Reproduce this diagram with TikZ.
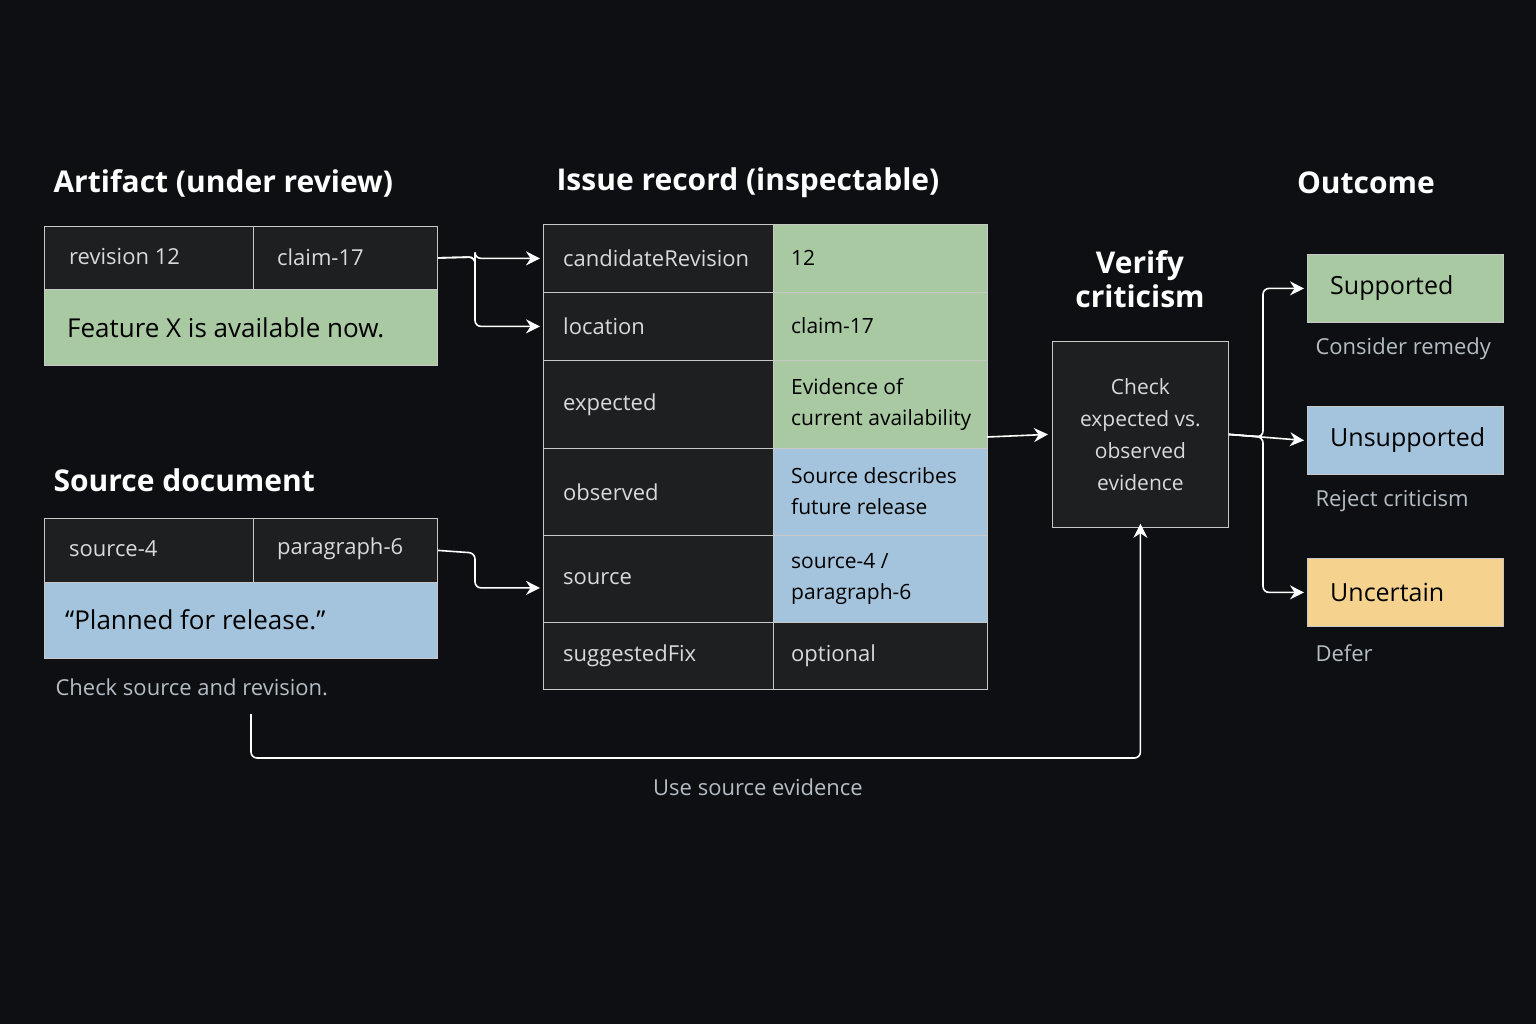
\documentclass[tikz,border=0pt]{standalone}
\usepackage{fontspec}
\setmainfont{Open Sans}
\usetikzlibrary{arrows.meta,positioning}
\definecolor{bgc}{HTML}{0D0F12}
\definecolor{cellc}{HTML}{1E1F21}
\definecolor{greenc}{HTML}{A8C9A2}
\definecolor{bluec}{HTML}{A3C4DC}
\definecolor{yellowc}{HTML}{F5D38E}
\definecolor{greyc}{HTML}{B4BCC4}
\definecolor{linec}{HTML}{C8C8C8}
\tikzset{
  cell/.style={draw=linec,line width=0.8pt,anchor=north west,inner sep=0pt},
  dark/.style={cell,fill=cellc},
  txt/.style={anchor=west,inner sep=1pt,text=white!85!black,font=\fontsize{22}{28}\selectfont},
  blk/.style={txt,text=black},
  heading/.style={text=white,font=\bfseries\fontsize{30}{36}\selectfont,anchor=west},
  note/.style={text=greyc,font=\fontsize{22}{28}\selectfont,anchor=west},
  flow/.style={draw=white,line width=1.6pt,rounded corners=6pt,-{Stealth[length=14pt,width=14pt]}}
}
\begin{document}
\begin{tikzpicture}[x=1pt,y=-1pt]
  \fill[bgc] (0,0) rectangle (1536,1024);
  \useasboundingbox (0,0) rectangle (1536,1024);

  % Headings
  \node[heading] (hArt) at (50,183) {Artifact (under review)};
  \node[heading] (hIss) at (553,183) {Issue record (inspectable)};
  \node[heading,anchor=center] (hOut) at (1366,183) {Outcome};
  \node[heading,anchor=center,align=center] (hVer) at (1140,279) {Verify\\[-2pt]criticism};
  \node[heading] (hSrc) at (50,480) {Source document};

  % Artifact
  \node[dark,minimum width=209,minimum height=63] (rev) at (44,226) {};
  \node[dark,minimum width=184,minimum height=63] (claim) at (253,226) {};
  \node[cell,fill=greenc,minimum width=393,minimum height=76] (feat) at (44,289) {};
  \node[txt] at (68,257) {revision 12};
  \node[txt] at (276,257) {claim-17};
  \node[blk,font=\fontsize{26}{32}\selectfont] at (66,328) {Feature X is available now.};

  % Source document
  \node[dark,minimum width=209,minimum height=64] (srcid) at (44,518) {};
  \node[dark,minimum width=184,minimum height=64] (para) at (253,518) {};
  \node[cell,fill=bluec,minimum width=393,minimum height=76] (quote) at (44,582) {};
  \node[txt] at (68,549) {source-4};
  \node[txt] at (276,549) {paragraph-6};
  \node[blk,font=\fontsize{26}{32}\selectfont] at (64,620) {“Planned for release.”};
  \node[note] (chk) at (52,687) {Check source and revision.};

  % Issue record rows: name/top/height/colour/value
  \foreach \k/\t/\h/\c/\v in {
      r1/224/68/greenc/12,
      r2/292/68/greenc/claim-17,
      r3/360/88/greenc/{Evidence of\\current availability},
      r4/448/87/bluec/{Source describes\\future release},
      r5/535/87/bluec/{source-4 /\\paragraph-6}}
    {\node[dark,minimum width=230,minimum height=\h] (\k l) at (543,\t) {};
     \node[cell,fill=\c,minimum width=214,minimum height=\h] (\k v) at (773,\t) {};
     \node[blk,align=left,font=\fontsize{21}{31}\selectfont] at (790,\t+\h/2) {\v};}
  \node[dark,minimum width=230,minimum height=67] (r6l) at (543,622) {};
  \node[dark,minimum width=214,minimum height=67] (r6v) at (773,622) {};
  \node[txt] at (790,656) {optional};
  \foreach \k/\n in {r1/candidateRevision,r2/location,r3/expected,r4/observed,r5/source,r6/suggestedFix}
    \node[txt] at ([xshift=19pt]\k l.west) {\n};

  % Verify
  \node[dark,minimum width=176,minimum height=186] (ver) at (1052,341) {};
  \node[txt,anchor=center,align=center,font=\fontsize{21}{32}\selectfont] at (ver.center) {Check\\expected vs.\\observed\\evidence};

  % Outcomes
  \node[cell,fill=greenc,minimum width=196,minimum height=68] (sup) at (1307,254) {};
  \node[cell,fill=bluec,minimum width=196,minimum height=68] (uns) at (1307,406) {};
  \node[cell,fill=yellowc,minimum width=196,minimum height=68] (unc) at (1307,558) {};
  \foreach \b/\l in {sup/Supported,uns/Unsupported,unc/Uncertain}
    \node[blk,font=\fontsize{25}{30}\selectfont] at ([xshift=22pt]\b.west) {\l};
  \node[note] (n1) at (1312,349) {Consider remedy};
  \node[note] (n2) at (1312,501) {Reject criticism};
  \node[note] (n3) at (1312,653) {Defer};

  % Connectors
  \coordinate (bend1) at (475,257);
  \draw[flow] (claim.east) -- (bend1) |- ([xshift=-3pt]r1l.west);
  \draw[flow] (claim.east) -- (bend1) |- ([xshift=-3pt]r2l.west);
  \coordinate (bend2) at (475,553);
  \draw[flow] (para.east) -- (bend2) |- ([xshift=-3pt,yshift=-9pt]r5l.west);
  \coordinate (tabR) at (987,437);
  \draw[flow] (tabR) -- ([xshift=-4pt]ver.west);
  \coordinate (split) at (1263,437);
  \draw[flow] (ver.east) -- (split) |- ([xshift=-3pt]sup.west);
  \draw[flow] (ver.east) -- ([xshift=-3pt]uns.west);
  \draw[flow] (ver.east) -- (split) |- ([xshift=-3pt]unc.west);
  \coordinate (loopS) at (251,714);
  \coordinate (loopL) at (251,758);
  \draw[flow] (loopS) -- (loopL) -| ([yshift=4pt]ver.south);
  \node[note,anchor=center] (use) at (758,787) {Use source evidence};
\end{tikzpicture}
\end{document}
